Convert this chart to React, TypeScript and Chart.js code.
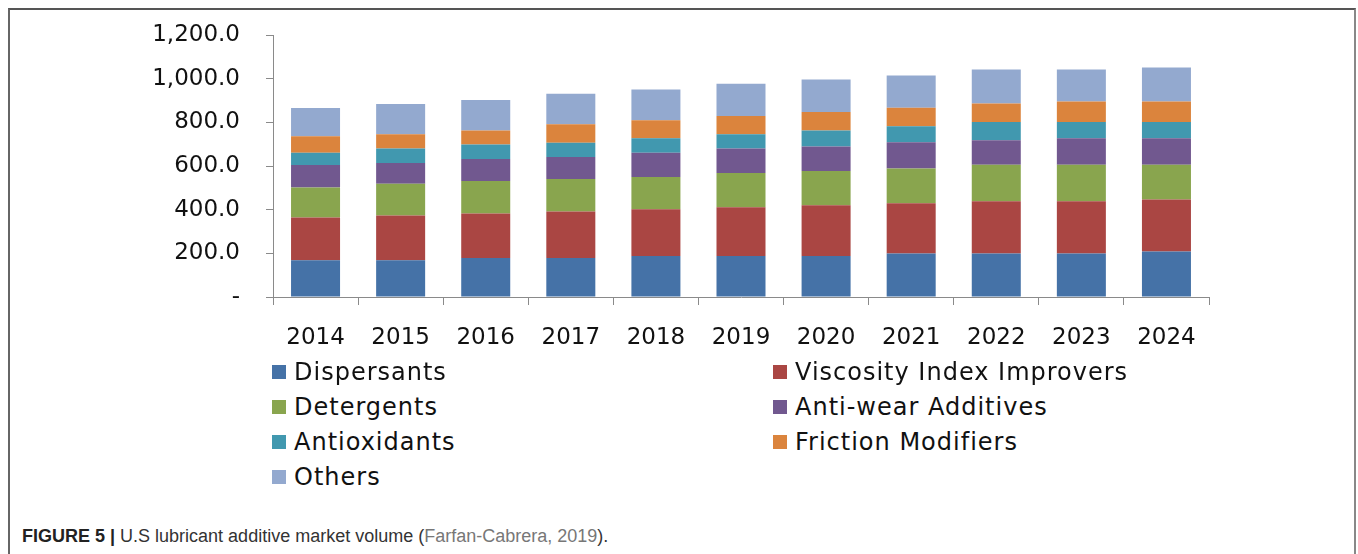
import React, { useEffect, useRef } from "react";
import { Chart, registerables } from "chart.js";

Chart.register(...registerables);

const years = ["2014", "2015", "2016", "2017", "2018", "2019", "2020", "2021", "2022", "2023", "2024"];

const dispersants = [168, 168, 179, 179, 188, 188, 188, 199, 199, 199, 208];
const viscosityIndexImprovers = [196, 205, 203, 213, 214, 223, 232, 230, 239, 239, 239];
const detergents = [138, 146, 149, 148, 148, 157, 157, 159, 168, 168, 159];
const antiWearAdditives = [103, 95, 101, 101, 111, 112, 112, 121, 112, 121, 121];
const antioxidants = [56, 66, 66, 66, 66, 65, 74, 73, 83, 74, 74];
const frictionModifiers = [75, 65, 65, 84, 82, 84, 84, 85, 85, 94, 94];
const others = [130, 139, 139, 140, 141, 148, 149, 147, 156, 147, 156];

const seriesNames = [
  "Dispersants",
  "Viscosity Index Improvers",
  "Detergents",
  "Anti-wear Additives",
  "Antioxidants",
  "Friction Modifiers",
  "Others",
];
const seriesColors = ["#4572A7", "#AA4643", "#89A54E", "#71588F", "#4198AF", "#DB843D", "#93A9CF"];
const seriesValues = [
  dispersants,
  viscosityIndexImprovers,
  detergents,
  antiWearAdditives,
  antioxidants,
  frictionModifiers,
  others,
];

const yMax = 1200;
const yStep = 200;

export default function App() {
  const canvasRef = useRef<HTMLCanvasElement | null>(null);

  useEffect(() => {
    if (!canvasRef.current) return;
    const chart = new Chart(canvasRef.current, {
      type: "bar",
      data: {
        labels: years,
        datasets: seriesNames.map((name, i) => ({
          label: name,
          data: seriesValues[i],
          backgroundColor: seriesColors[i],
          borderWidth: 0,
          categoryPercentage: 1,
          barPercentage: 0.576,
        })),
      },
      options: {
        animation: false,
        responsive: false,
        maintainAspectRatio: false,
        layout: { padding: { top: 35, right: 149, left: 1, bottom: 0 } },
        plugins: { legend: { display: false }, tooltip: { enabled: false } },
        scales: {
          x: {
            stacked: true,
            afterFit: (scale: any) => {
              scale.height = 63;
              scale.paddingLeft = 0;
              scale.paddingRight = 0;
            },
            border: { display: true, color: "#8a8a8a", width: 1 },
            grid: {
              display: true,
              drawOnChartArea: false,
              drawTicks: true,
              tickLength: 8,
              color: "#8a8a8a",
              offset: true,
            },
            ticks: {
              color: "#111",
              font: { family: "DejaVu Sans", size: 23 },
              padding: 19,
              maxRotation: 0,
            },
          },
          y: {
            stacked: true,
            min: 0,
            max: yMax,
            afterFit: (scale: any) => {
              scale.width = 272;
              scale.paddingTop = 0;
              scale.paddingBottom = 0;
            },
            border: { display: true, color: "#8a8a8a", width: 1 },
            grid: {
              display: true,
              drawOnChartArea: false,
              drawTicks: true,
              tickLength: 7,
              color: "#8a8a8a",
            },
            ticks: {
              stepSize: yStep,
              color: "#111",
              font: { family: "DejaVu Sans", size: 23 },
              padding: 26,
              callback: (v: any) =>
                Number(v) === 0
                  ? "-"
                  : Number(v).toLocaleString("en-US", { minimumFractionDigits: 1, maximumFractionDigits: 1 }),
            },
          },
        },
      },
    });
    return () => chart.destroy();
  }, []);

  const legendRowTop = 372;
  const legendRowGap = 35;

  return (
    <div>
      <div
        style={{
          position: "absolute",
          left: 8,
          top: 8,
          width: 1348,
          height: 546,
          borderTop: "2px solid #555",
          borderLeft: "2px solid #666",
          borderRight: "2px solid #888",
          boxSizing: "border-box",
        }}
      />
      <canvas
        ref={canvasRef}
        width={1358}
        height={360}
        style={{ position: "absolute", left: 0, top: 0, width: 1358, height: 360 }}
      />
      {seriesNames.map((name, i) => {
        const col = i % 2;
        const row = Math.floor(i / 2);
        const left = col === 0 ? 272 : 773;
        const cy = legendRowTop + row * legendRowGap;
        return (
          <div
            key={name}
            style={{
              position: "absolute",
              left,
              top: cy - 15,
              height: 30,
              display: "flex",
              alignItems: "center",
              fontFamily: "'DejaVu Sans'",
              fontSize: 24,
              letterSpacing: 1,
              color: "#111",
              whiteSpace: "nowrap",
            }}
          >
            <span
              style={{
                display: "inline-block",
                width: 14,
                height: 14,
                background: seriesColors[i],
                marginRight: 8,
              }}
            />
            <span>{name}</span>
          </div>
        );
      })}
      <div
        style={{
          position: "absolute",
          left: 22,
          top: 526,
          fontFamily: "'Liberation Sans', Arial, sans-serif",
          fontSize: 18,
          color: "#333",
          whiteSpace: "nowrap",
        }}
      >
        <b style={{ color: "#222" }}>FIGURE 5 |</b> U.S lubricant additive market volume (
        <span style={{ color: "#777" }}>Farfan-Cabrera, 2019</span>).
      </div>
    </div>
  );
}
